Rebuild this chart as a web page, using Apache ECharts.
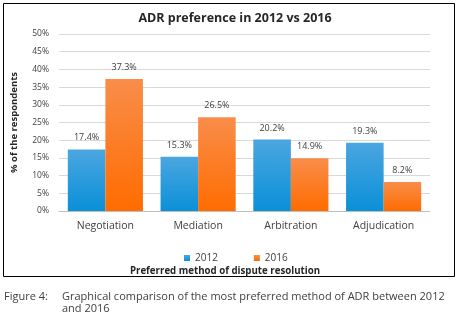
<!DOCTYPE html>
<html>
<head>
<meta charset="utf-8">
<script src="https://cdn.jsdelivr.net/npm/echarts@6/dist/echarts.min.js"></script>
<style>
  html, body { margin: 0; padding: 0; background: #fff; }
  #chart { width: 460px; height: 336px; }
</style>
</head>
<body>
<div id="chart"></div>
<script>
const categories = ["Negotiation", "Mediation", "Arbitration", "Adjudication"];
const values2012 = [17.4, 15.3, 20.2, 19.3];
const values2016 = [37.3, 26.5, 14.9, 8.2];
const seriesNames = ["2012", "2016"];

const font = "'Open Sans', 'DejaVu Sans', sans-serif";

const blueFill = new echarts.graphic.LinearGradient(0, 0, 0, 1, [
  { offset: 0, color: "#4ba6e0" },
  { offset: 1, color: "#0a90d8" },
]);
const orangeFill = new echarts.graphic.LinearGradient(0, 0, 0, 1, [
  { offset: 0, color: "#f98d4a" },
  { offset: 1, color: "#ff6c00" },
]);

const chart = echarts.init(document.getElementById("chart"));
chart.setOption({
  animation: false,
  title: {
    text: "ADR preference in 2012 vs 2016",
    left: 230,
    textAlign: "center",
    top: 7,
    textStyle: { fontFamily: font, fontSize: 12.5, fontWeight: "bold", color: "#262626" },
  },
  legend: {
    data: seriesNames,
    top: 248,
    left: 179,
    itemWidth: 6,
    itemHeight: 6,
    itemGap: 36,
    icon: "rect",
    textStyle: { fontFamily: font, fontSize: 10, color: "#404040" },
  },
  grid: { left: 59, right: 30, top: 34, bottom: 125 },
  xAxis: {
    type: "category",
    data: categories,
    axisTick: { show: false },
    axisLine: { lineStyle: { color: "#bfbfbf" } },
    axisLabel: { fontFamily: font, fontSize: 10.5, color: "#404040", margin: 10 },
  },
  yAxis: {
    type: "value",
    min: 0,
    max: 50,
    interval: 5,
    name: "% of the respondents",
    nameLocation: "middle",
    nameGap: 40,
    nameTextStyle: { fontFamily: font, fontSize: 9.5, fontWeight: "bold", color: "#262626" },
    axisLabel: { formatter: "{value}%", fontFamily: font, fontSize: 8.5, color: "#404040", margin: 10 },
    splitLine: { lineStyle: { color: "#d9d9d9" } },
    axisLine: { show: false },
    axisTick: { show: false },
  },
  series: [
    {
      name: seriesNames[0],
      type: "bar",
      data: values2012,
      barGap: "0%",
      barCategoryGap: "19%",
      itemStyle: { color: blueFill },
      label: { show: true, position: "top", distance: 7, formatter: "{c}%", fontFamily: font, fontSize: 9, color: "#404040" },
    },
    {
      name: seriesNames[1],
      type: "bar",
      data: values2016,
      itemStyle: { color: orangeFill },
      label: { show: true, position: "top", distance: 7, formatter: "{c}%", fontFamily: font, fontSize: 9, color: "#404040" },
    },
  ],
  graphic: [
    {
      type: "rect",
      shape: { x: 3.5, y: 3.5, width: 451, height: 273 },
      style: { fill: null, stroke: "#000", lineWidth: 1 },
    },
    {
      type: "text",
      x: 225,
      y: 271,
      style: {
        text: "Preferred method of dispute resolution",
        font: "bold 9.7px " + font,
        fill: "#262626",
        textAlign: "center",
        textVerticalAlign: "middle",
      },
    },
    {
      type: "text",
      x: 4,
      y: 291,
      style: { text: "Figure 4:", font: "11px " + font, fill: "#404040" },
    },
    {
      type: "text",
      x: 62,
      y: 291,
      style: {
        text: "Graphical comparison of the most preferred method of ADR between 2012\nand 2016",
        font: "11px " + font,
        lineHeight: 12,
        fill: "#404040",
      },
    },
  ],
});
</script>
</body>
</html>
